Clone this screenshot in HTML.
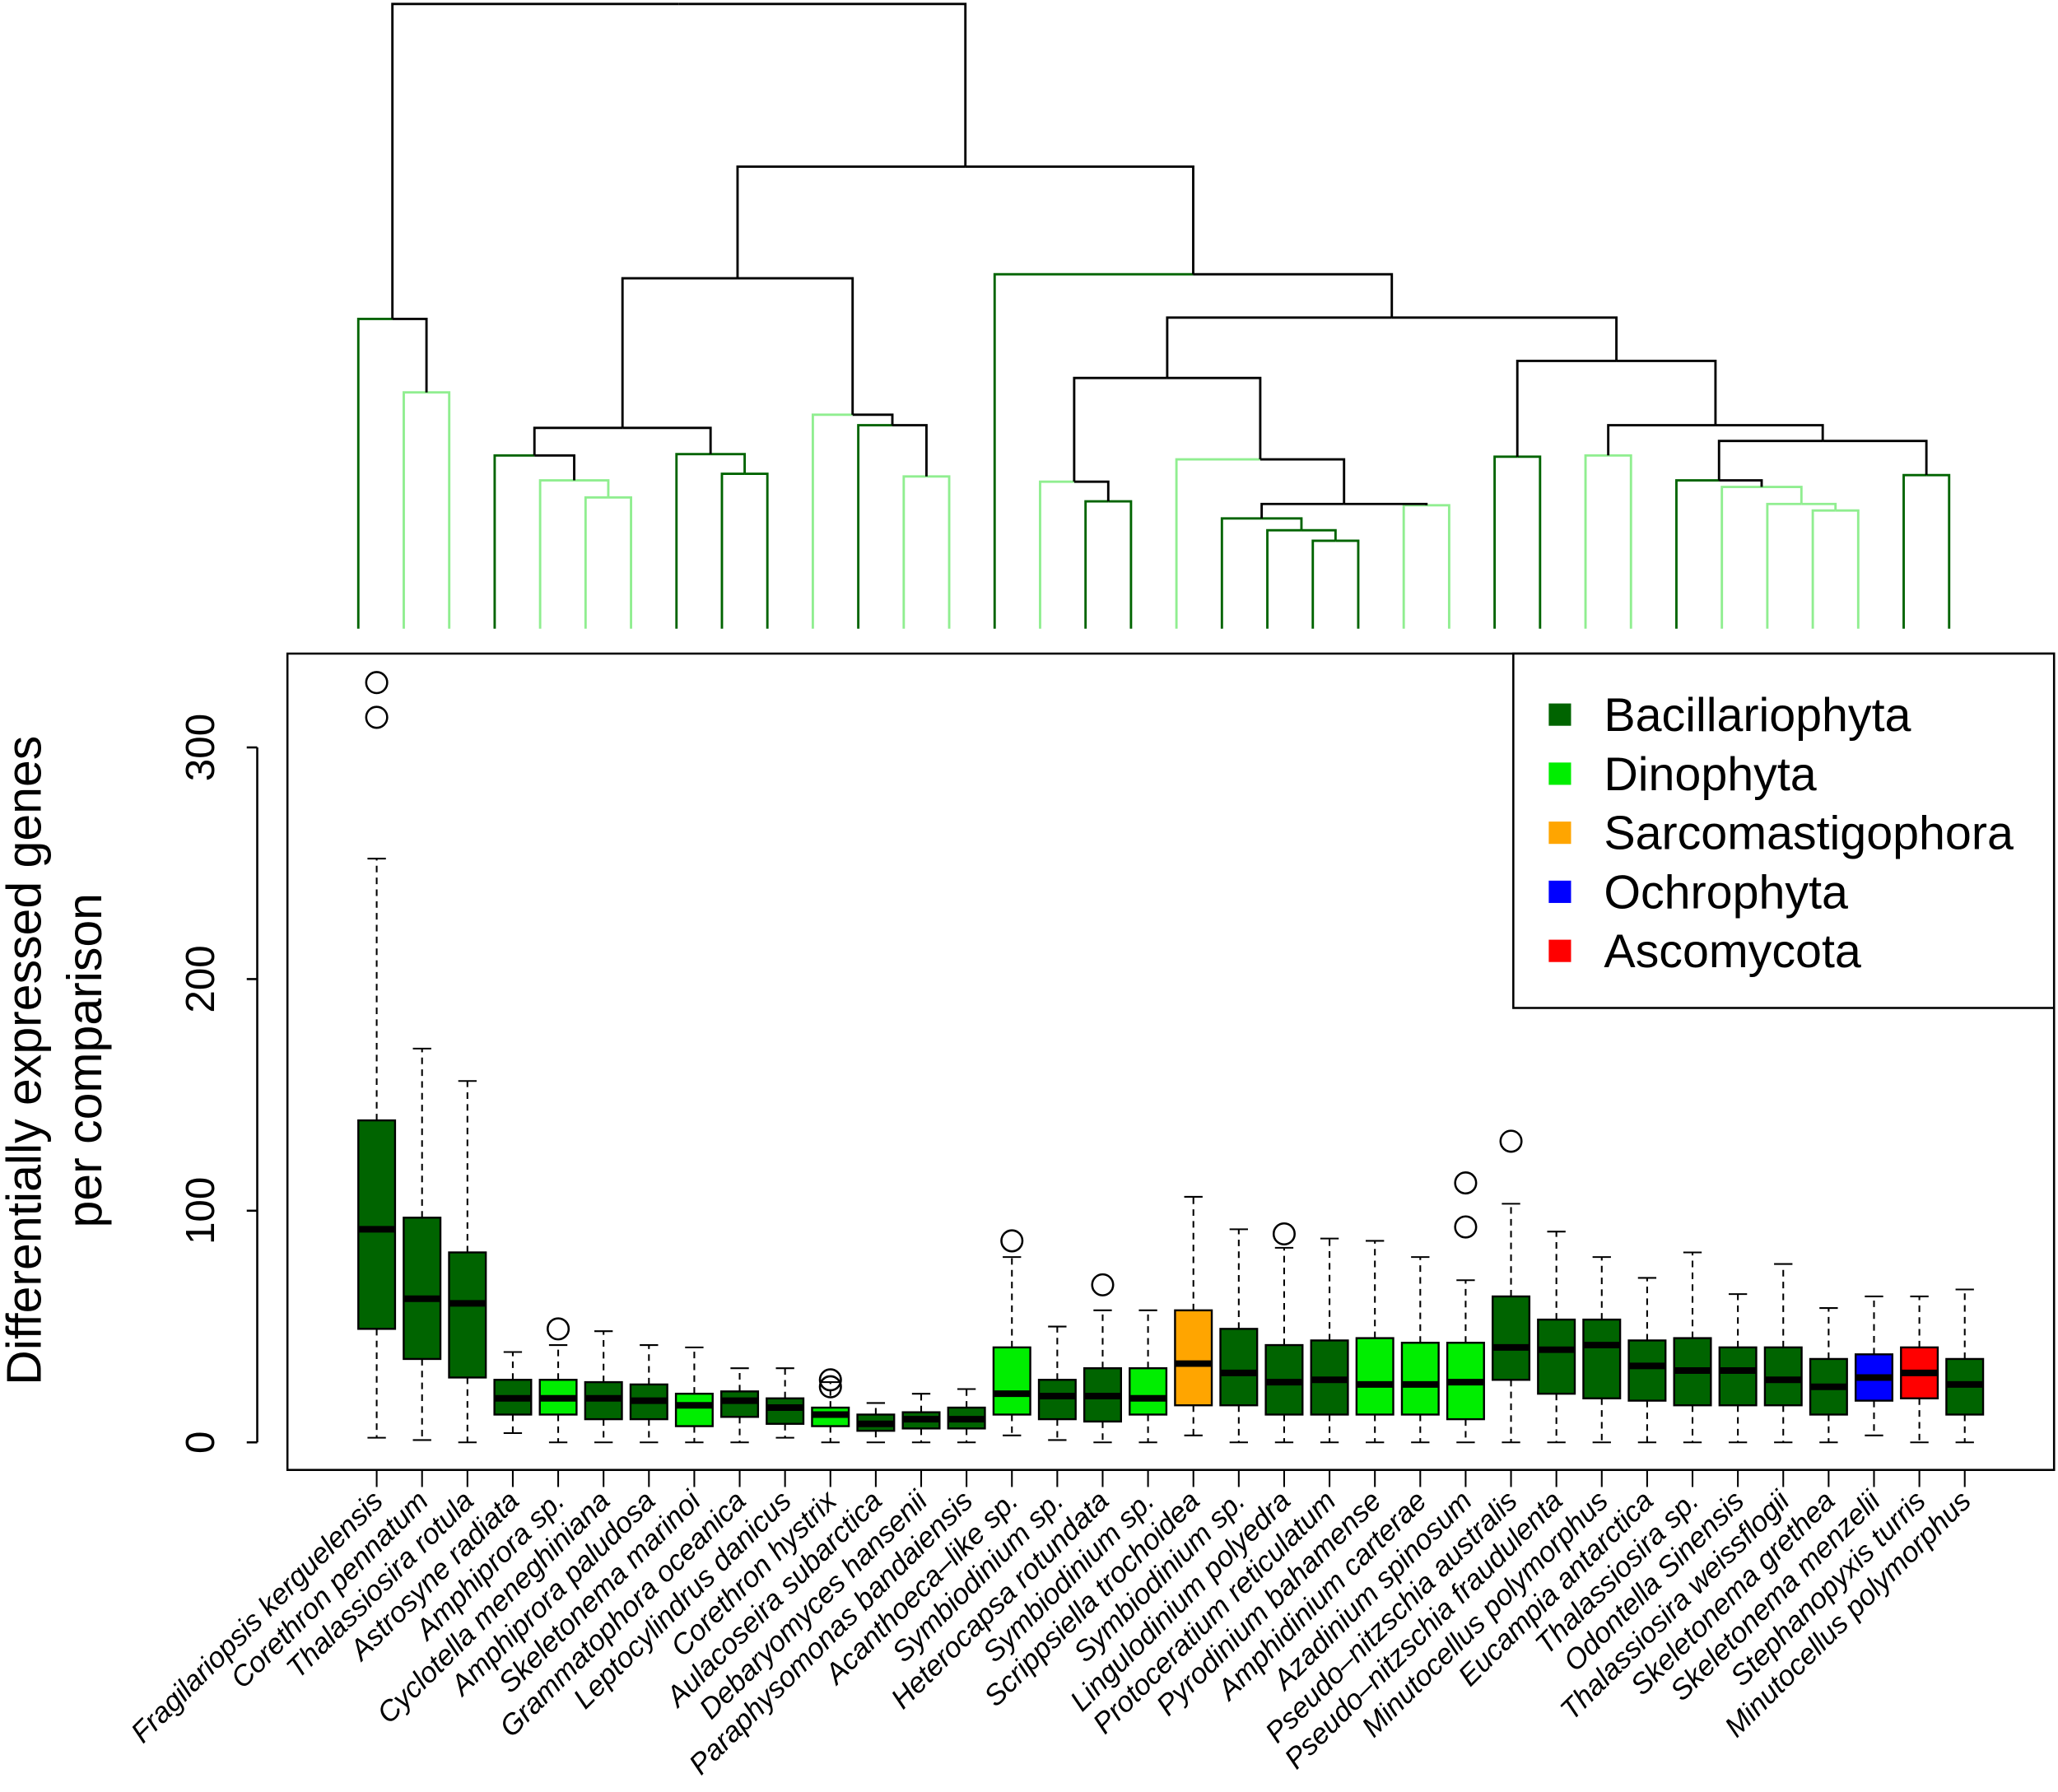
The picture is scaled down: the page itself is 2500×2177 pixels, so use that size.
<!DOCTYPE html>
<html><head><meta charset="utf-8"><style>
html,body{margin:0;padding:0;background:#fff;}
svg{display:block;font-family:"Liberation Sans",sans-serif;}
</style></head><body>
<svg id="chart" xmlns="http://www.w3.org/2000/svg" width="2500" height="2177" viewBox="0 0 1568 1365.4" preserveAspectRatio="none">
<g id="dendro"></g>
<rect x="219" y="498" width="1346" height="622" fill="none" stroke="#000" stroke-width="1.6"/>
<g id="yaxis"></g>
<g id="xaxis"></g>
<g id="boxes"></g>
<text transform="translate(31,808) rotate(-90)" text-anchor="middle" font-size="37">Differentially expressed genes</text>
<text transform="translate(77,808) rotate(-90)" text-anchor="middle" font-size="37">per comparison</text>
<g>
<rect x="1153" y="498" width="412" height="270" fill="#fff" stroke="#000" stroke-width="1.6"/>
<rect x="1180" y="536" width="17" height="17" fill="#006400"/>
<text x="1222" y="557" font-size="36">Bacillariophyta</text>
<rect x="1180" y="581" width="17" height="17" fill="#00ee00"/>
<text x="1222" y="602" font-size="36">Dinophyta</text>
<rect x="1180" y="626" width="17" height="17" fill="#ffa500"/>
<text x="1222" y="647" font-size="36">Sarcomastigophora</text>
<rect x="1180" y="671" width="17" height="17" fill="#0000ff"/>
<text x="1222" y="692" font-size="36">Ochrophyta</text>
<rect x="1180" y="716" width="17" height="17" fill="#ff0000"/>
<text x="1222" y="737" font-size="36">Ascomycota</text>
</g>
</svg>
<script>
const species = ["Fragilariopsis kerguelensis","Corethron pennatum","Thalassiosira rotula","Astrosyne radiata","Amphiprora sp.","Cyclotella meneghiniana","Amphiprora paludosa","Skeletonema marinoi","Grammatophora oceanica","Leptocylindrus danicus","Corethron hystrix","Aulacoseira subarctica","Debaryomyces hansenii","Paraphysomonas bandaiensis","Acanthoeca\u2013like sp.","Symbiodinium sp.","Heterocapsa rotundata","Symbiodinium sp.","Scrippsiella trochoidea","Symbiodinium sp.","Lingulodinium polyedra","Protoceratium reticulatum","Pyrodinium bahamense","Amphidinium carterae","Azadinium spinosum","Pseudo\u2013nitzschia australis","Pseudo\u2013nitzschia fraudulenta","Minutocellus polymorphus","Eucampia antarctica","Thalassiosira sp.","Odontella Sinensis","Thalassiosira weissflogii","Skeletonema grethea","Skeletonema menzelii","Stephanopyxis turris","Minutocellus polymorphus"];
const groups = ["B","B","B","B","D","B","B","D","B","B","D","B","B","B","D","B","B","D","S","B","B","B","D","D","D","B","B","B","B","B","B","B","B","O","R","B"];
const whiskerLow = [2,1,0,4,0,0,0,0,0,2,0,0,0,0,3,1,0,0,3,0,0,0,0,0,0,0,0,0,0,0,0,0,0,3,0,0];
const q1 = [49,36,28,12,12,10,10,7,11,8,7,5,6,6,12,10,9,12,16,16,12,12,12,12,10,27,21,19,18,16,16,16,12,18,19,12];
const median = [92,62,60,19,19,19,18,16,18,15,12,8,10,10,21,20,20,19,34,30,26,27,25,25,26,41,40,42,33,31,31,27,24,28,30,25];
const q3 = [139,97,82,27,27,26,25,21,22,19,15,12,13,15,41,27,32,32,57,49,42,44,45,43,43,63,53,53,44,45,41,41,36,38,41,36];
const whiskerHigh = [252,170,156,39,42,48,42,41,32,32,26,17,21,23,80,50,57,57,106,92,84,88,87,80,70,103,91,80,71,82,64,77,58,63,63,66];
const outliers = [[313,328],[],[],[],[49],[],[],[],[],[],[24,27],[],[],[],[87],[],[68],[],[],[],[90],[],[],[],[93,112],[130],[],[],[],[],[],[],[],[],[],[]];
const yTicks = [0,100,200,300];
const leafColors = ["D","L","L","D","L","L","L","D","D","D","L","D","L","L","D","L","D","D","L","D","D","D","D","L","L","D","D","L","L","D","L","L","L","L","D","D"];
const mergeIds = ["A","B","C","Dn","E","F","G","H","I","J","K","Lm","Z3","Z2","Z","P","Y","W","X","V","T","U9","U8","U7","U5","U6","U4","U3","U2","U1","U","S","R","M","Root"];
const mergeLeft = [2,1,6,5,4,9,8,"E",13,12,11,"H",22,21,20,24,"Z",19,17,16,"V",33,32,31,30,35,"U5",28,"U3",26,"U1","T",15,"Lm","B"];
const mergeRight = [3,"A",7,"C","Dn",10,"F","G",14,"I","J","K",23,"Z3","Z2",25,"P","Y",18,"X","W",34,"U9","U8","U7",36,"U6",29,"U4",27,"U2","U","S","R","M"];
const mergeHeight = [180,236,100,113,132,118,133,153,116,155,163,267,67,75,84,94,95,129,97,112,191,90,95,108,113,117,143,132,155,131,204,237,270,352,476];

const NS="http://www.w3.org/2000/svg";
function el(tag,attrs,parent){const e=document.createElementNS(NS,tag);for(const k in attrs)e.setAttribute(k,attrs[k]);parent.appendChild(e);return e;}
const yScale=v=>1099-v*1.765;
const xBox=i=>287+34.57*i;
const xLeaf=i=>273+34.63*i;
const baseY=479;
const colorMap={B:"#006400",D:"#00ee00",S:"#ffa500",O:"#0000ff",R:"#ff0000"};
const dColor={D:"#006400",L:"#90ee90"};

const ya=document.getElementById('yaxis');
const yl=el('line',{x1:196,x2:196,y1:yScale(yTicks[0]),y2:yScale(yTicks[yTicks.length-1]),stroke:"#000","stroke-width":1.6},ya);


yTicks.forEach(t=>{
  const ln=el('line',{x1:188,x2:196,y1:yScale(t),y2:yScale(t),stroke:"#000","stroke-width":1.6},ya);
  
  
  const tx=el('text',{transform:`translate(163,${yScale(t)}) rotate(-90)`,"text-anchor":"middle","font-size":31},ya);
  
  
  tx.textContent=t;
});
const xa=document.getElementById('xaxis');
species.forEach((s,i)=>{
  const x=xBox(i);
  const ln=el('line',{x1:x,x2:x,y1:1120,y2:1133,stroke:"#000","stroke-width":1.3},xa);
  
  
  const tx=el('text',{transform:`translate(${x+6},${1145}) rotate(-45)`,"text-anchor":"end","font-size":22,"font-style":"italic"},xa);
  
  
  tx.textContent=s;
});
const bx=document.getElementById('boxes');
species.forEach((s,i)=>{
  const x=xBox(i),hw=14,cw=7;
  const g=el('g',{},bx);
  
  
  el('line',{x1:x,x2:x,y1:yScale(q3[i]),y2:yScale(whiskerHigh[i]),stroke:"#000","stroke-width":1.3,"stroke-dasharray":"5,4"},g);
  el('line',{x1:x,x2:x,y1:yScale(q1[i]),y2:yScale(whiskerLow[i]),stroke:"#000","stroke-width":1.3,"stroke-dasharray":"5,4"},g);
  el('line',{x1:x-cw,x2:x+cw,y1:yScale(whiskerHigh[i]),y2:yScale(whiskerHigh[i]),stroke:"#000","stroke-width":1.3},g);
  el('line',{x1:x-cw,x2:x+cw,y1:yScale(whiskerLow[i]),y2:yScale(whiskerLow[i]),stroke:"#000","stroke-width":1.3},g);
  el('rect',{x:x-hw,y:yScale(q3[i]),width:2*hw,height:yScale(q1[i])-yScale(q3[i]),fill:colorMap[groups[i]],stroke:"#000","stroke-width":1.5},g);
  el('line',{x1:x-hw,x2:x+hw,y1:yScale(median[i]),y2:yScale(median[i]),stroke:"#000","stroke-width":5},g);
  outliers[i].forEach(o=>{
    const c=el('circle',{cx:x,cy:yScale(o),r:8,fill:"none",stroke:"#000","stroke-width":1.6},g);
    
    
  });
});
const dg=document.getElementById('dendro');
const nodes={};
function info(c){
  if(typeof c==="number") return {x:xLeaf(c-1),h:0,col:leafColors[c-1],leaf:true};
  return nodes[c];
}
mergeIds.forEach((id,k)=>{
  const a=info(mergeLeft[k]),b=info(mergeRight[k]);
  const h=mergeHeight[k];
  const col=(a.col&&a.col===b.col)?a.col:null;
  nodes[id]={x:(a.x+b.x)/2,h:h,col:col,leaf:false};
  const y=baseY-h;
  [a,b].forEach(ch=>{
    const stroke=(ch.leaf||col)? dColor[ch.leaf?ch.col:col] : "#000";
    const mid=nodes[id].x;
    const p=el('path',{d:`M${ch.x},${baseY-ch.h} L${ch.x},${y} L${mid},${y}`,fill:"none",stroke:stroke,"stroke-width":1.8},dg);
    
    
  });
});
</script>
</body></html>
